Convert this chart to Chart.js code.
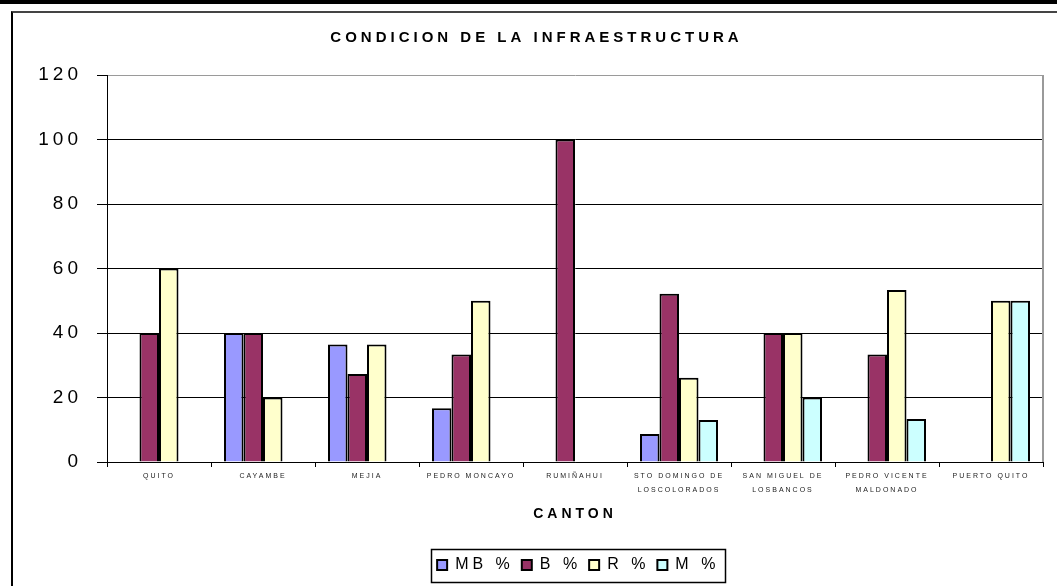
<!DOCTYPE html>
<html>
<head>
<meta charset="utf-8">
<title>Condicion de la infraestructura</title>
<script src="https://cdn.jsdelivr.net/npm/chart.js@4.4.1/dist/chart.umd.min.js"></script>
<style>
    html, body { margin: 0; padding: 0; background: #fff; overflow: hidden; }
    .top-bar { position: absolute; left: 0; top: 0; width: 1057px; height: 4px; background: #000; }
    .frame { position: absolute; left: 11px; top: 11px; width: 1060px; height: 600px; border-left: 2px solid #000; border-top: 2px solid #444; }
    #chart-infra { position: absolute; left: 0; top: 0; }
</style>
</head>
<body>
<div class="top-bar"></div>
<div class="frame"></div>
<canvas id="chart-infra" width="1057" height="586"></canvas>
<script>
// Cantones (eje X)
const cantones = [
    'QUITO',
    'CAYAMBE',
    'MEJIA',
    'PEDRO MONCAYO',
    'RUMIÑAHUI',
    ['STO DOMINGO DE', 'LOSCOLORADOS'],
    ['SAN MIGUEL DE', 'LOSBANCOS'],
    ['PEDRO VICENTE', 'MALDONADO'],
    'PUERTO QUITO'
];

// Porcentajes por condición (null = sin dato)
const mbPct = [null, 40, 36.4, 16.7, null, 8.7, null, null, null];
const bPct  = [40, 40, 27.3, 33.3, 100, 52.2, 40, 33.3, null];
const rPct  = [60, 20, 36.4, 50, null, 26.1, 40, 53.3, 50];
const mPct  = [null, null, null, null, null, 13.0, 20, 13.3, 50];

const yTicks = [0, 20, 40, 60, 80, 100, 120];

// el original tiene todo el texto espaciado
const LETTER_SPACING = '3.5px';
const TITLE_SPACING = '4px';
const X_LABEL_SPACING = '2px';

Chart.defaults.font.family = "'Liberation Sans', Arial, sans-serif";
Chart.defaults.color = '#000';

// Espaciado menor sólo para las etiquetas del eje X
const baseDrawLabels = Chart.Scale.prototype.drawLabels;
Chart.Scale.prototype.drawLabels = function (area) {
    const ctx = this.ctx;
    const prev = ctx.letterSpacing;
    if (this.axis === 'x') ctx.letterSpacing = X_LABEL_SPACING;
    baseDrawLabels.call(this, area);
    ctx.letterSpacing = prev;
};

// Espaciado de letras en todo el canvas (se pierde al redimensionar)
const spacingPlugin = {
    id: 'spacing',
    beforeLayout(chart) { chart.ctx.letterSpacing = LETTER_SPACING; },
    beforeDraw(chart) { chart.ctx.letterSpacing = TITLE_SPACING; },
    beforeDatasetsDraw(chart) { chart.ctx.letterSpacing = LETTER_SPACING; }
};

// Borde gris derecho del área y recuadro de la leyenda
const framePlugin = {
    id: 'frames',
    afterDraw(chart) {
        const { ctx, chartArea: a, legend } = chart;
        ctx.save();
        ctx.strokeStyle = '#9a9a9a';
        ctx.lineWidth = 2;
        ctx.beginPath();
        ctx.moveTo(a.right, a.top);
        ctx.lineTo(a.right, a.bottom);
        ctx.stroke();

        const hb = legend.legendHitBoxes;
        if (hb && hb.length) {
            const left = Math.min(...hb.map(h => h.left)) - 6;
            const right = Math.max(...hb.map(h => h.left + h.width)) + 12;
            const top = hb[0].top - 8.5;
            const bottom = hb[0].top + hb[0].height + 8.5;
            ctx.strokeStyle = '#000';
            ctx.lineWidth = 1.5;
            ctx.strokeRect(Math.round(left) + 0.5, Math.round(top) + 0.5, Math.round(right - left), Math.round(bottom - top));
        }
        ctx.restore();
    }
};

const dataset = (label, data, color) => ({
    label: label,
    data: data,
    backgroundColor: color,
    borderColor: '#000',
    borderWidth: 2,
    categoryPercentage: 0.75,
    barPercentage: 1.0
});

new Chart(document.getElementById('chart-infra'), {
    type: 'bar',
    data: {
        labels: cantones,
        datasets: [
            dataset('MB %', mbPct, '#9999ff'),
            dataset('B %', bPct, '#993366'),
            dataset('R %', rPct, '#ffffcc'),
            dataset('M %', mPct, '#ccffff')
        ]
    },
    options: {
        responsive: false,
        animation: false,
        devicePixelRatio: 1,
        layout: { padding: { left: 30, right: 14, top: 0, bottom: 3 } },
        scales: {
            x: {
                grid: { drawOnChartArea: false, tickLength: 5, color: '#000', offset: true },
                border: { color: '#000', width: 1 },
                ticks: {
                    font: { size: 7, lineHeight: 2 },
                    color: '#222',
                    padding: 2,
                    maxRotation: 0,
                    autoSkip: false
                },
                title: {
                    display: true,
                    text: 'CANTON',
                    font: { size: 14, weight: 'bold' },
                    color: '#000',
                    padding: { top: 6, bottom: 26 }
                },
                afterFit(scale) { scale.height = 87; }
            },
            y: {
                min: yTicks[0],
                max: yTicks[yTicks.length - 1],
                afterBuildTicks(scale) { scale.ticks = yTicks.map(v => ({ value: v })); },
                ticks: { font: { size: 19 }, color: '#000', padding: 15 },
                grid: {
                    color: (c) => (c.tick && c.tick.value === 120 ? '#9a9a9a' : '#000'),
                    tickColor: '#000',
                    tickLength: 10,
                    lineWidth: 1
                },
                border: { color: '#000', width: 1 },
                afterFit(scale) { scale.width = 77; }
            }
        },
        plugins: {
            title: {
                display: true,
                text: 'CONDICION DE LA INFRAESTRUCTURA',
                font: { size: 15, weight: 'bold' },
                color: '#000',
                padding: { top: 29, bottom: 28 }
            },
            legend: {
                position: 'bottom',
                fullSize: false,
                labels: {
                    font: { size: 16 },
                    color: '#000',
                    boxWidth: 10,
                    boxHeight: 10,
                    padding: 8
                }
            },
            tooltip: { enabled: false }
        }
    },
    plugins: [spacingPlugin, framePlugin]
});
</script>
</body>
</html>
